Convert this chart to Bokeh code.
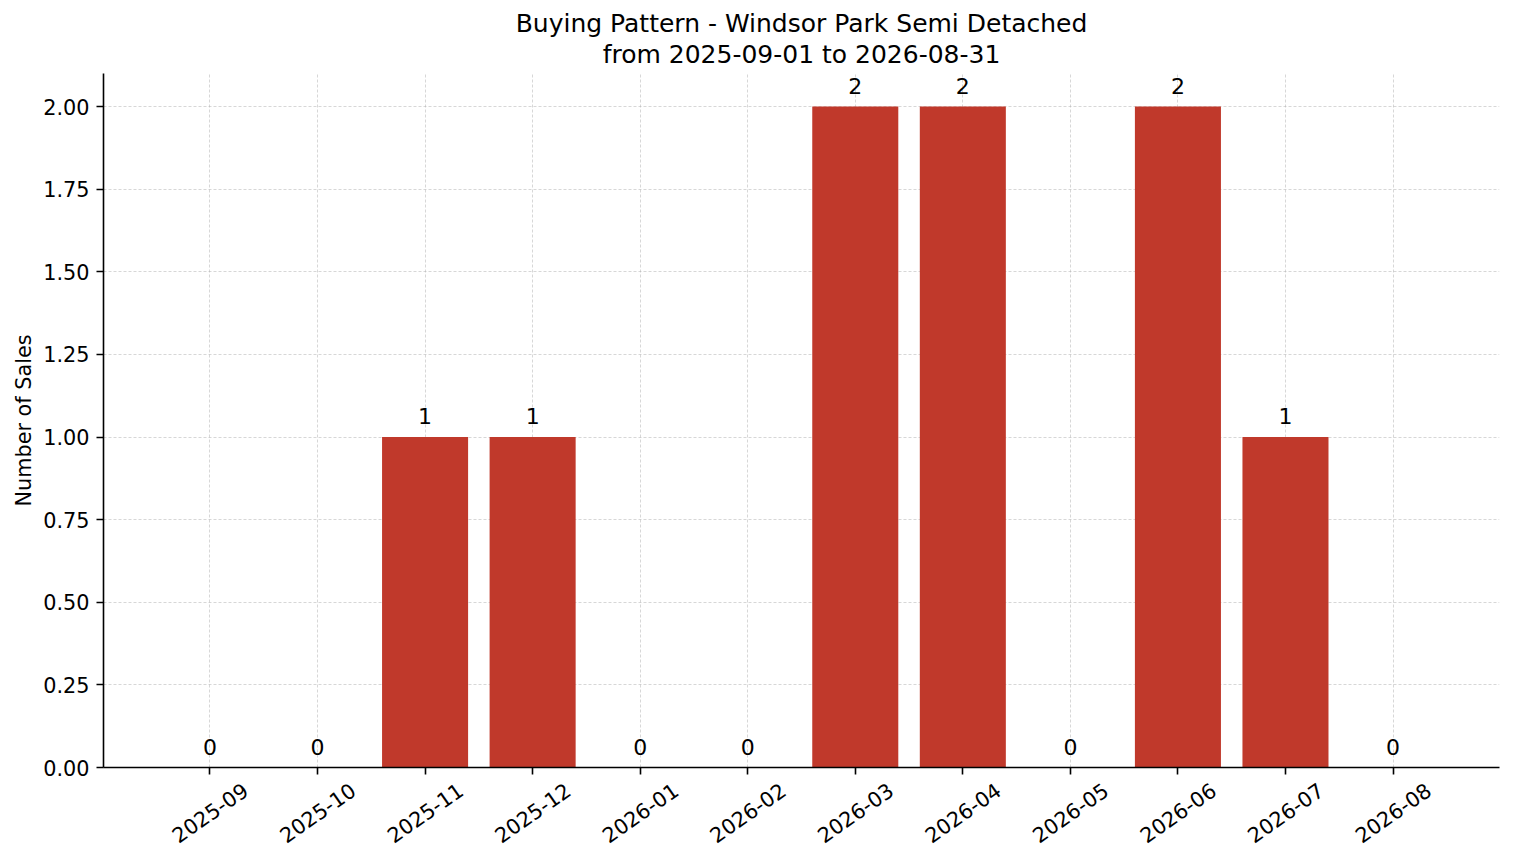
import math
from bokeh.plotting import figure
from bokeh.models import (FixedTicker, NumeralTickFormatter, Range1d, Title,
                          ColumnDataSource, LinearAxis)
from bokeh.core.properties import value
from bokeh.embed import file_html
from bokeh.resources import INLINE

# data
months = ["2025-09", "2025-10", "2025-11", "2025-12", "2026-01", "2026-02",
          "2026-03", "2026-04", "2026-05", "2026-06", "2026-07", "2026-08"]
sales = [0, 0, 1, 1, 0, 0, 2, 2, 0, 2, 1, 0]
y_ticks = [0, 0.25, 0.5, 0.75, 1.0, 1.25, 1.5, 1.75, 2.0]
title_line1 = "Buying Pattern - Windsor Park Semi Detached"
title_line2 = "from 2025-09-01 to 2026-08-31"

FONT = "DejaVu Sans"
BAR_COLOR = "#c0392b"
X_START, X_END = -0.99, len(months) - 0.01
# rotated bokeh labels hang off their right end; shift them so they sit centred
LABEL_SHIFT = 0.33

xs = list(range(len(months)))
source = ColumnDataSource(data={
    "x": xs,
    "sales": sales,
    "label": [str(v) for v in sales],
})

p = figure(width=1506, height=855, title=None,
           x_range=Range1d(X_START, X_END), y_range=Range1d(0, 2.1),
           output_backend="svg", toolbar_location=None,
           min_border_left=103, min_border_right=7,
           min_border_top=73, min_border_bottom=88)
p.outline_line_color = None
p.background_fill_color = "white"
p.border_fill_color = "white"

p.vbar(x="x", top="sales", width=0.8, source=source,
       fill_color=BAR_COLOR, line_color=None)
p.text(x="x", y="sales", text="label", source=source,
       text_align="center", text_baseline="alphabetic", y_offset=-21,
       text_font=value(FONT), text_font_size="22px", text_color="black")

# two centred title lines, the first added sits nearest the plot
p.add_layout(Title(text=title_line2, align="center", text_font=FONT,
                   text_font_size="25px", text_font_style="normal",
                   text_color="black", standoff=10), "above")
p.add_layout(Title(text=title_line1, align="center", text_font=FONT,
                   text_font_size="25px", text_font_style="normal",
                   text_color="black", standoff=-10), "above")

# main x axis: ticks only
p.xaxis.ticker = FixedTicker(ticks=xs)
p.xaxis.major_label_overrides = {i: "" for i in xs}
p.xaxis.major_label_text_font_size = "0px"
p.xaxis.major_label_standoff = 0

# label-only axis carrying the month names
p.extra_x_ranges = {"labels": Range1d(X_START - LABEL_SHIFT, X_END - LABEL_SHIFT)}
month_axis = LinearAxis(x_range_name="labels", ticker=FixedTicker(ticks=xs),
                        major_label_overrides={i: m for i, m in enumerate(months)},
                        major_label_orientation=math.radians(35),
                        axis_line_color=None, major_tick_line_color=None,
                        minor_tick_line_color=None, major_tick_out=0,
                        major_tick_in=0, major_label_standoff=13,
                        major_label_text_font=FONT,
                        major_label_text_font_size="20.8px",
                        major_label_text_color="black")
p.add_layout(month_axis, "below")

p.yaxis.ticker = FixedTicker(ticks=y_ticks)
p.yaxis.formatter = NumeralTickFormatter(format="0.00")
p.yaxis.axis_label = "Number of Sales"
p.yaxis.major_label_text_font = FONT
p.yaxis.major_label_text_font_size = "20.8px"
p.yaxis.major_label_text_color = "black"
p.yaxis.major_label_standoff = 7
p.yaxis.axis_label_text_font = FONT
p.yaxis.axis_label_text_font_size = "20.8px"
p.yaxis.axis_label_text_font_style = "normal"
p.yaxis.axis_label_text_color = "black"
p.yaxis.axis_label_standoff = 4

for ax in (p.xaxis[0], p.yaxis[0]):
    ax.axis_line_color = "black"
    ax.axis_line_width = 1.6
    ax.major_tick_line_color = "black"
    ax.major_tick_line_width = 1.6
    ax.major_tick_out = 7
    ax.major_tick_in = 0
    ax.minor_tick_line_color = None

for g in (p.xgrid[0], p.ygrid[0]):
    g.grid_line_color = "#b0b0b0"
    g.grid_line_alpha = 0.5
    g.grid_line_width = 1
    g.grid_line_dash = "3 2"

open("out.html", "w").write(file_html(p, INLINE))
